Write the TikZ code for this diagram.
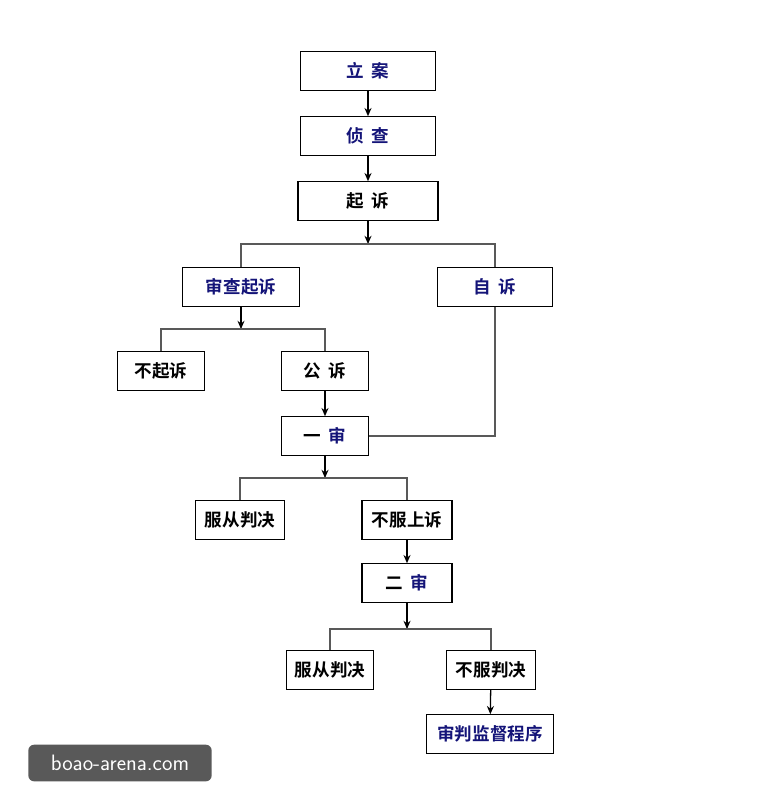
\documentclass[tikz,border=0pt]{standalone}
\usepackage{fontspec}
\newfontfamily\cjk{Noto Sans CJK SC}[BoldFont={* Bold}]
\usetikzlibrary{positioning,arrows.meta}
\definecolor{navy}{RGB}{20,20,120}
\begin{document}
\begin{tikzpicture}[x=0.03cm,y=-0.03cm,>={Stealth[length=7pt,width=6pt]},
	box/.style={draw,line width=1.1pt,minimum height=1.15cm,inner sep=0pt,font=\cjk\bfseries\fontsize{15}{18}\selectfont},
	blue/.style={text=navy},
	arr/.style={->,line width=1.1pt},
	lin/.style={line width=1.1pt,gray!70!black}]
	
	\useasboundingbox (0,0) rectangle (765,809);
	
	% the boxes
	\node[box,minimum width=4.05cm,blue] (la) at (368,71) {立\ \ 案};
	\node[box,minimum width=4.05cm,blue] (zc) at (368,136) {侦\ \ 查};
	\node[box,minimum width=4.2cm] (qs) at (368,201) {起\ \ 诉};
	\node[box,minimum width=3.5cm,blue] (scqs) at (241,287) {审查起诉};
	\node[box,minimum width=3.45cm,blue] (zs) at (495,287) {自\ \ 诉};
	\node[box,minimum width=2.6cm] (bqs) at (161,371) {不起诉};
	\node[box,minimum width=2.6cm] (gs) at (325,371) {公\ \ 诉};
	\node[box,minimum width=2.6cm] (ys) at (325,436) {一\ \ \textcolor{navy}{审}};
	\node[box,minimum width=2.65cm] (fc1) at (240,520) {服从判决};
	\node[box,minimum width=2.7cm] (bfss) at (407,520) {不服上诉};
	\node[box,minimum width=2.7cm] (es) at (407,583) {二\ \ \textcolor{navy}{审}};
	\node[box,minimum width=2.6cm] (fc2) at (330,670) {服从判决};
	\node[box,minimum width=2.65cm] (bfpj) at (491,670) {不服判决};
	\node[box,minimum width=3.8cm,blue] (jd) at (490,734) {审判监督程序};
	
	% the branches
	\coordinate (b1) at (368,244);
	\coordinate (b2) at (241,329);
	\coordinate (b3) at (325,478);
	\coordinate (b4) at (407,629);
	
	\draw[arr] (la) -- (zc);
	\draw[arr] (zc) -- (qs);
	\draw[arr] (qs) -- (b1);
	\draw[lin] (scqs.north) |- (b1) -| (zs.north);
	\draw[arr] (scqs) -- (b2);
	\draw[lin] (bqs.north) |- (b2) -| (gs.north);
	\draw[arr] (gs) -- (ys);
	\draw[lin] (zs.south) |- (ys.east);
	\draw[arr] (ys) -- (b3);
	\draw[lin] (fc1.north) |- (b3) -| (bfss.north);
	\draw[arr] (bfss) -- (es);
	\draw[arr] (es) -- (b4);
	\draw[lin] (fc2.north) |- (b4) -| (bfpj.north);
	\draw[arr] (bfpj) -- (jd);
	
	% watermark
	\node[fill=black!65,rounded corners=5pt,text=white,minimum width=5.5cm,minimum height=1.1cm,font=\sffamily\fontsize{19}{22}\selectfont] (wm) at (120,763) {boao-arena.com};
\end{tikzpicture}
\end{document}
